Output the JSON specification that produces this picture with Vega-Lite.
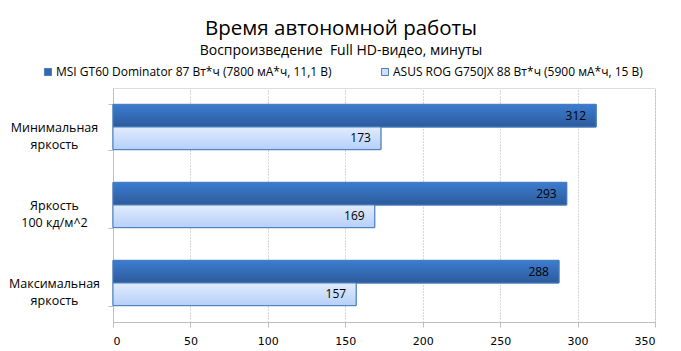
{
  "$schema": "https://vega.github.io/schema/vega-lite/v6.json",
  "width": 542,
  "height": 234,
  "autosize": {"type": "none"},
  "padding": {"left": 113, "top": 88, "right": 26, "bottom": 29},
  "background": "white",
  "title": {
    "text": "Время автономной работы",
    "subtitle": "Воспроизведение\u00a0 Full HD-видео, минуты",
    "anchor": "middle",
    "dx": -43,
    "offset": 8,
    "font": "Open Sans",
    "fontSize": 20.5,
    "fontWeight": "normal",
    "color": "#000000",
    "subtitleFont": "Open Sans",
    "subtitleFontSize": 14,
    "subtitleColor": "#000000",
    "subtitlePadding": 5
  },
  "data": {
    "values": [
      {"cat": "Минимальная|яркость", "series": "MSI GT60 Dominator 87 Вт*ч (7800 мА*ч, 11,1 В)", "value": 312},
      {"cat": "Минимальная|яркость", "series": "ASUS ROG G750JX 88 Вт*ч (5900 мА*ч, 15 В)", "value": 173},
      {"cat": "Яркость|100 кд/м^2", "series": "MSI GT60 Dominator 87 Вт*ч (7800 мА*ч, 11,1 В)", "value": 293},
      {"cat": "Яркость|100 кд/м^2", "series": "ASUS ROG G750JX 88 Вт*ч (5900 мА*ч, 15 В)", "value": 169},
      {"cat": "Максимальная|яркость", "series": "MSI GT60 Dominator 87 Вт*ч (7800 мА*ч, 11,1 В)", "value": 288},
      {"cat": "Максимальная|яркость", "series": "ASUS ROG G750JX 88 Вт*ч (5900 мА*ч, 15 В)", "value": 157}
    ]
  },
  "encoding": {
    "y": {
      "field": "cat",
      "type": "nominal",
      "sort": null,
      "title": null,
      "scale": {"paddingInner": 0.42, "paddingOuter": 0.21},
      "axis": {
        "labelExpr": "split(datum.label, '|')",
        "labelFont": "Open Sans",
        "labelFontSize": 12.5,
        "labelColor": "#000000",
        "labelAlign": "center",
        "labelPadding": 54,
        "labelLineHeight": 17,
        "tickBand": "extent",
        "tickSize": 5,
        "tickColor": "#bfbfbf",
        "domainColor": "#bfbfbf",
        "grid": false
      }
    },
    "yOffset": {
      "field": "series",
      "type": "nominal",
      "sort": null
    },
    "x": {
      "field": "value",
      "type": "quantitative",
      "title": null,
      "scale": {"domain": [0, 350]},
      "axis": {
        "values": [0, 50, 100, 150, 200, 250, 300, 350],
        "labelFont": "DejaVu Sans",
        "labelFontSize": 11,
        "labelColor": "#000000",
        "labelPadding": 8,
        "tickSize": 5,
        "tickColor": "#bfbfbf",
        "domainColor": "#bfbfbf",
        "grid": true,
        "gridColor": "#b0b0b0",
        "gridDash": [1, 2],
        "gridWidth": 1
      }
    }
  },
  "layer": [
    {
      "mark": {"type": "bar", "stroke": "#4a7ebb", "strokeWidth": 1},
      "encoding": {
        "color": {
          "field": "series",
          "type": "nominal",
          "sort": null,
          "scale": {"range": ["#3468ae", "#cddffb"]},
          "legend": {
            "title": null,
            "orient": "none",
            "legendX": -71,
            "legendY": -22,
            "direction": "horizontal",
            "symbolType": "square",
            "symbolSize": 50,
            "symbolStrokeColor": "#4a7ebb",
            "symbolStrokeWidth": 1,
            "labelFont": "Open Sans",
            "labelFontSize": 12,
            "labelColor": "#000000",
            "labelLimit": 400,
            "labelOffset": 2,
            "columnPadding": 47
          }
        }
      }
    },
    {
      "mark": {"type": "bar", "stroke": "#4a7ebb", "strokeWidth": 1},
      "encoding": {
        "fill": {
          "condition": {
            "test": "indexof(datum.series, 'MSI') == 0",
            "value": {"gradient": "linear", "x1": 0, "y1": 0, "x2": 0, "y2": 1, "stops": [{"offset": 0, "color": "#3c7cd0"}, {"offset": 1, "color": "#2c5b9b"}]}
          },
          "value": {"gradient": "linear", "x1": 0, "y1": 0, "x2": 0, "y2": 1, "stops": [{"offset": 0, "color": "#e1ecfd"}, {"offset": 1, "color": "#b5d0f9"}]}
        }
      }
    },
    {
      "mark": {"type": "text", "align": "right", "dx": -10, "font": "Open Sans", "fontSize": 12, "color": "#000000"},
      "encoding": {
        "text": {"field": "value", "type": "quantitative"}
      }
    }
  ]
}
